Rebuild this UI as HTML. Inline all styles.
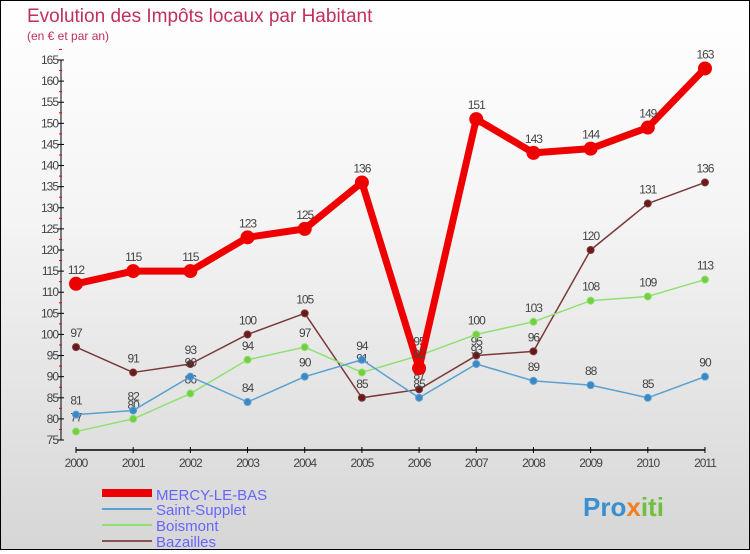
<!DOCTYPE html>
<html><head><meta charset="utf-8"><style>
body{margin:0}
#c{width:748px;height:548px;border:1px solid #000;background:linear-gradient(#fff,#f4f4f4 40%,#d6d6d6);position:relative;font-family:"Liberation Sans",sans-serif}
</style></head><body>
<div id="c">
<svg id="s" width="748" height="548" xmlns="http://www.w3.org/2000/svg">
<text x="26" y="21" font-size="19" fill="#c0305e">Evolution des Impôts locaux par Habitant</text>
<text x="26" y="39" font-size="12" fill="#c0305e">(en € et par an)</text>
<g id="ax"></g><g id="ser"></g>
<g>
<line x1="101" y1="492" x2="151" y2="492" stroke="#e00" stroke-width="8"/>
<text x="155" y="499" font-size="15" fill="#66f">MERCY-LE-BAS</text>
<line x1="101" y1="508" x2="151" y2="508" stroke="#5aa0d0" stroke-width="2"/>
<text x="155" y="514" font-size="15" fill="#66f">Saint-Supplet</text>
<line x1="101" y1="524" x2="151" y2="524" stroke="#90e070" stroke-width="2"/>
<text x="155" y="530" font-size="15" fill="#66f">Boismont</text>
<line x1="101" y1="540" x2="151" y2="540" stroke="#8b5050" stroke-width="2"/>
<text x="155" y="546" font-size="15" fill="#66f">Bazailles</text>
</g>
<text x="582" y="515" font-size="26" font-weight="bold" fill="#3a8fd0">Pro<tspan fill="#f08020">x</tspan><tspan fill="#70c040">iti</tspan></text>
</svg></div>
<script>
const years=[2000,2001,2002,2003,2004,2005,2006,2007,2008,2009,2010,2011];
const yTicks=[75,80,85,90,95,100,105,110,115,120,125,130,135,140,145,150,155,160,165];
const mercy=[112,115,115,123,125,136,92,151,143,144,149,163];
const saintSupplet=[81,82,90,84,90,94,85,93,89,88,85,90];
const boismont=[77,80,86,94,97,91,95,100,103,108,109,113];
const bazailles=[97,91,93,100,105,85,87,95,96,120,131,136];
const NS="http://www.w3.org/2000/svg";
const X=i=>75+i*57.18, Y=v=>439-(v-75)*380/90;
function mk(t,a,p){const e=document.createElementNS(NS,t);for(const k in a)e.setAttribute(k,a[k]);p.appendChild(e);return e;}
const ax=document.getElementById('ax');
let l=mk('line',{x1:60,y1:Y(165),x2:60,y2:Y(75),stroke:'#000'},ax);


l=mk('line',{x1:75,y1:449,x2:X(11),y2:449,stroke:'#000','stroke-width':1.5},ax);


yTicks.forEach(v=>{mk('line',{x1:57,y1:Y(v),x2:63,y2:Y(v),stroke:'#000'},ax);
 mk('line',{x1:58,y1:Y(v+2.5),x2:61,y2:Y(v+2.5),stroke:'#e00'},ax);
 const t=mk('text',{x:57,y:Y(v)+4,'font-size':12,fill:'#444','text-anchor':'end','letter-spacing':-1},ax);t.textContent=v;
 
 });
years.forEach((y,i)=>{mk('line',{x1:X(i),y1:446,x2:X(i),y2:452,stroke:'#000'},ax);
 const t=mk('text',{x:X(i),y:466,'font-size':12,fill:'#444','text-anchor':'middle','letter-spacing':-1},ax);t.textContent=y;
 
 });
const ser=document.getElementById('ser');
function draw(d,name,col,dot,w,r){const g=mk('g',{},ser);
 
 
 mk('polyline',{points:d.map((v,i)=>X(i)+','+Y(v)).join(' '),fill:'none',stroke:col,'stroke-width':w,'stroke-linejoin':'round'},g);
 d.forEach((v,i)=>{const c=mk('circle',{cx:X(i),cy:Y(v),r:r,fill:dot,stroke:col},g);
 
 
 const t=mk('text',{x:X(i),y:Y(v)-10,'font-size':12,fill:'#444','text-anchor':'middle','letter-spacing':-1},g);t.textContent=v;
 
 });}
draw(bazailles,'bazailles','#7a3a3a','#6a1a1a',1.5,3.5);
draw(boismont,'boismont','#90e070','#70d040',1.5,3.5);
draw(saintSupplet,'saint-supplet','#5aa0d0','#3a88c8',1.5,3.5);
draw(mercy,'mercy','#e00','#e00',7,6.5);
</script>
</body></html>
